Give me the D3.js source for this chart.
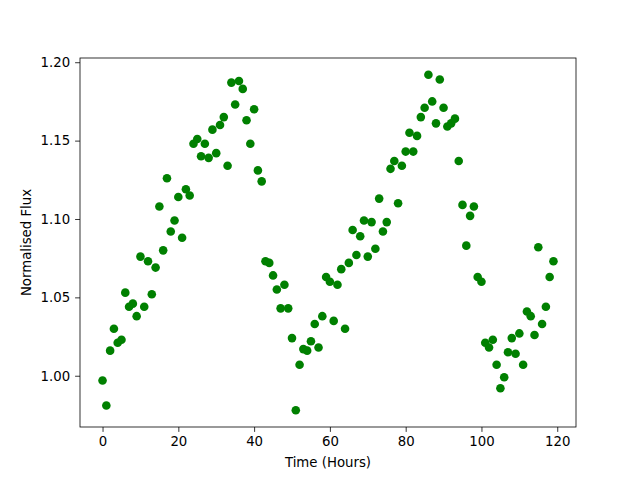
<!DOCTYPE html>
<html><head><meta charset="utf-8">
<script src="https://cdn.jsdelivr.net/npm/d3@7"></script>
<style>body{margin:0;background:#fff}svg{display:block}</style>
</head><body>
<svg id="c" width="640" height="480"></svg>
<script>
const hours = d3.range(0, 120);
const flux = [
0.997,0.981,1.016,1.030,1.021,1.023,1.053,1.044,1.046,1.038,
1.076,1.044,1.073,1.052,1.069,1.108,1.080,1.126,1.092,1.099,
1.114,1.088,1.119,1.115,1.148,1.151,1.140,1.148,1.139,1.157,
1.142,1.160,1.165,1.134,1.187,1.173,1.188,1.183,1.163,1.148,
1.170,1.131,1.124,1.073,1.072,1.064,1.055,1.043,1.058,1.043,
1.024,0.978,1.007,1.017,1.016,1.022,1.033,1.018,1.038,1.063,
1.060,1.035,1.058,1.068,1.030,1.072,1.093,1.077,1.089,1.099,
1.076,1.098,1.081,1.113,1.092,1.098,1.132,1.137,1.110,1.134,
1.143,1.155,1.143,1.153,1.165,1.171,1.192,1.175,1.161,1.189,
1.171,1.159,1.161,1.164,1.137,1.109,1.083,1.102,1.108,1.063,
1.060,1.021,1.018,1.023,1.007,0.992,0.999,1.015,1.024,1.014,
1.027,1.007,1.041,1.038,1.026,1.082,1.033,1.044,1.063,1.073];
const xTicks = [0,20,40,60,80,100,120];
const yTicks = [1.00,1.05,1.10,1.15,1.20];
const xLabel = "Time (Hours)";
const yLabel = "Normalised Flux";

const L=80,R=576,T=58,B=427;
const svg = d3.select("#c");
const xmin=d3.min(hours), xmax=d3.max(hours), xpad=(xmax-xmin)*0.05;
const ymin=d3.min(flux), ymax=d3.max(flux), ypad=(ymax-ymin)*0.05;
const x = d3.scaleLinear().domain([xmin-xpad, xmax+xpad]).range([L,R]);
const y = d3.scaleLinear().domain([ymin-ypad, ymax+ypad]).range([B,T]);
const font = "DejaVu Sans, sans-serif";

svg.append("g").selectAll("circle").data(hours).join("circle")
  .attr("cx", d=>x(d)).attr("cy", (d,i)=>y(flux[i])).attr("r",4.3)
  .attr("fill","#008000");

const xa = svg.append("g").attr("transform",`translate(0,${B})`)
  .call(d3.axisBottom(x).tickValues(xTicks).tickFormat(d3.format("d")).tickSize(4.9).tickPadding(4.9));
const ya = svg.append("g").attr("transform",`translate(${L},0)`)
  .call(d3.axisLeft(y).tickValues(yTicks).tickFormat(d3.format(".2f")).tickSize(4.9).tickPadding(4.9));
[xa,ya].forEach(a=>{
  a.select(".domain").remove();
  a.selectAll("line").attr("stroke","#000").attr("stroke-width",0.8);
  a.selectAll("text").attr("font-family",font).attr("font-size","13.3px").attr("fill","#000");
});
svg.append("rect").attr("x",L).attr("y",T).attr("width",R-L).attr("height",B-T)
  .attr("fill","none").attr("stroke","#000").attr("stroke-width",0.8);

svg.append("text").attr("x",(L+R)/2).attr("y",467).attr("text-anchor","middle")
  .attr("font-family",font).attr("font-size","13.3px").text(xLabel);
svg.append("text").attr("transform",`translate(31,${(T+B)/2}) rotate(-90)`).attr("text-anchor","middle")
  .attr("font-family",font).attr("font-size","13.3px").text(yLabel);
</script>
</body></html>
